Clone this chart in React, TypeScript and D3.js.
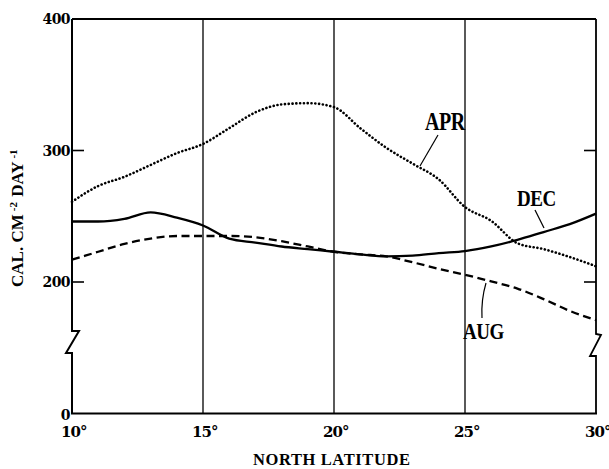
import React from "react";
import * as d3 from "d3";

// Latitude grid (degrees north) shared by every series
const latitudes = [10, 11, 12, 13, 14, 15, 16, 17, 18, 19, 20, 21, 22, 23, 24, 25, 26, 27, 28, 29, 30];

// Mean daily radiation, cal cm^-2 day^-1
const aprValues = [261, 273, 280, 289, 298, 305, 317, 329, 335, 336, 333, 317, 302, 290, 278, 257, 246.5, 229.5, 225, 219, 212];
const decValues = [246, 246, 248, 253, 249, 243, 233, 230, 227, 225, 223, 221, 219.5, 220, 222, 223.5, 227, 232, 238, 244, 252];
const augValues = [217, 223, 229, 233, 235, 235, 235, 234, 231, 227, 223, 221, 219.5, 215, 210, 205.5, 200.5, 195, 187, 178, 171];

const xTicks = [10, 15, 20, 25, 30];
const yTicks = [0, 200, 300, 400];
// value drawn at the axis floor (the axis is broken between 0 and here)
const yFloor = 100;

const W = 609;
const H = 469;
const left = 72;
const right = 596;
const top = 19;
const bottom = 413.5;

const SERIF = "'Liberation Serif', 'Times New Roman', serif";
const WIDE_SERIF = "'DejaVu Serif', serif";

// condensed-looking heavy label: stretch glyphs vertically around the baseline
function Tall({ x, y, size, children }: { x: number; y: number; size: number; children: React.ReactNode }) {
  return (
    <text
      transform={`translate(${x},${y}) scale(1,1.22)`}
      fontSize={size}
      fontFamily={SERIF}
      fontWeight={700}
      letterSpacing={-0.5}
    >
      {children}
    </text>
  );
}

export default function App() {
  const x = d3.scaleLinear().domain([10, 30]).range([left, right]);
  const y = d3.scaleLinear().domain([yFloor, 400]).range([bottom, top]);
  const yPos = (v: number) => (v < yFloor ? y(yFloor) : y(v));

  const line = d3
    .line<[number, number]>()
    .x((d) => x(d[0]))
    .y((d) => y(d[1]))
    .curve(d3.curveMonotoneX);

  const series = (vals: number[]) => line(latitudes.map((l, i) => [l, vals[i]] as [number, number])) || "";

  // zig-zag axis break marks
  const breakTop = 331;
  const breakBot = 353;
  const leftBreak = `M${left},${top} L${left},${breakTop} L${left + 7},${breakTop} L${left - 6},${breakBot} L${left},${breakBot} L${left},${bottom}`;
  const rightBreak = `M${right},${top} L${right},${breakTop + 3} L${right + 5},${breakTop + 4} L${right - 6},${breakBot + 3} L${right},${breakBot + 3} L${right},${bottom}`;

  return (
    <svg width={W} height={H} style={{ position: "absolute", left: 0, top: 0, background: "#fff" }}>
      <rect width={W} height={H} fill="#fff" />

      {/* vertical latitude grid */}
      {xTicks.slice(1, -1).map((t) => (
        <line key={t} x1={x(t)} x2={x(t)} y1={top} y2={bottom} stroke="#000" strokeWidth={1.3} />
      ))}

      {/* frame */}
      <line x1={left} x2={right} y1={top} y2={top} stroke="#000" strokeWidth={1.8} />
      <line x1={left - 1} x2={right + 1} y1={bottom} y2={bottom} stroke="#000" strokeWidth={2} />
      <path d={leftBreak} fill="none" stroke="#000" strokeWidth={2} />
      <path d={rightBreak} fill="none" stroke="#000" strokeWidth={1.8} />

      {/* inner ticks on both vertical axes */}
      {yTicks
        .filter((t) => t > 0 && t < 400)
        .map((t) => (
          <g key={t}>
            <line x1={left} x2={left + 12} y1={y(t)} y2={y(t)} stroke="#000" strokeWidth={1.6} />
            <line x1={right - 12} x2={right} y1={y(t)} y2={y(t)} stroke="#000" strokeWidth={1.6} />
          </g>
        ))}

      {/* y tick labels */}
      {yTicks.map((t) => (
        <text
          key={t}
          x={left - 2}
          y={yPos(t) + (t === 0 ? 6 : 5)}
          textAnchor="end"
          fontFamily={WIDE_SERIF}
          fontWeight={700}
          fontSize={14}
          letterSpacing={-0.6}
        >
          {t}
        </text>
      ))}

      {/* x tick labels */}
      {xTicks.map((t) => (
        <text
          key={t}
          x={x(t) - 11}
          y={437}
          fontFamily={WIDE_SERIF}
          fontWeight={700}
          fontSize={15}
          letterSpacing={-1}
        >
          {t}°
        </text>
      ))}

      {/* axis titles */}
      <text
        x={253}
        y={465}
        fontFamily={SERIF}
        fontWeight={700}
        fontSize={16.5}
        textLength={157}
        lengthAdjust="spacing"
      >
        NORTH  LATITUDE
      </text>
      <text transform="translate(23,287) rotate(-90)" fontFamily={SERIF} fontWeight={700} fontSize={17}>
        CAL. CM
        <tspan fontSize={11} dy={-6} dx={3}>
          -2
        </tspan>
        <tspan dy={6} dx={1}>
          {" "}DAY
        </tspan>
        <tspan fontSize={11} dy={-6} dx={3}>
          -1
        </tspan>
      </text>

      {/* series */}
      <path
        d={series(aprValues)}
        fill="none"
        stroke="#000"
        strokeWidth={2.6}
        strokeDasharray="0.1 3.7"
        strokeLinecap="round"
      />
      <path d={series(decValues)} fill="none" stroke="#000" strokeWidth={2.3} />
      <path d={series(augValues)} fill="none" stroke="#000" strokeWidth={2.3} strokeDasharray="8 4.5" />

      {/* series labels with leaders */}
      <Tall x={425} y={130} size={20}>
        APR
      </Tall>
      <line x1={438} y1={135} x2={420} y2={166} stroke="#000" strokeWidth={1.2} />

      <Tall x={517} y={206} size={19}>
        DEC
      </Tall>
      <line x1={535} y1={210} x2={544} y2={228} stroke="#000" strokeWidth={1.2} />

      <Tall x={463} y={339} size={19}>
        AUG
      </Tall>
      <path d="M486,283 Q481,300 482,318" fill="none" stroke="#000" strokeWidth={1.2} />
    </svg>
  );
}
